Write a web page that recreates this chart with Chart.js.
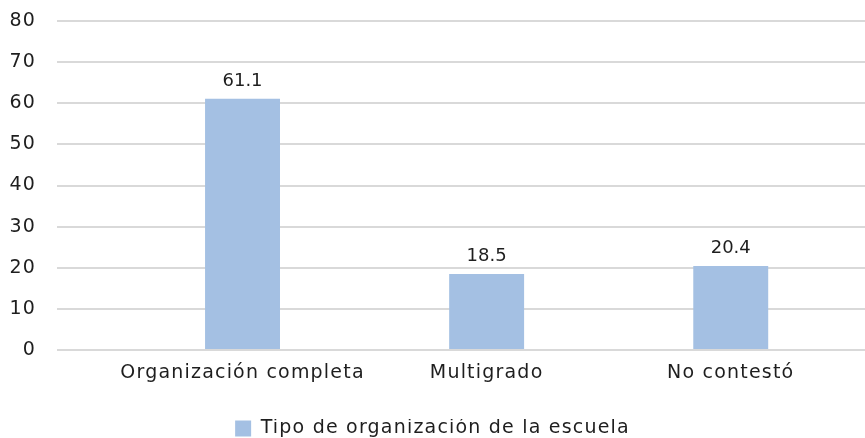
<!DOCTYPE html>
<html>
<head>
<meta charset="utf-8">
<script src="https://cdn.jsdelivr.net/npm/chart.js@4/dist/chart.umd.min.js"></script>
<style>
  html, body { margin: 0; padding: 0; background: #fff; }
  #wrap { width: 865px; height: 438px; }
</style>
</head>
<body>
<div id="wrap"><canvas id="chart"></canvas></div>
<script>
// ── Data ────────────────────────────────────────────────────
const categories = ['Organización completa', 'Multigrado', 'No contestó'];
const values = [61.1, 18.5, 20.4];
const seriesLabel = 'Tipo de organización de la escuela';
const yTicks = [0, 10, 20, 30, 40, 50, 60, 70, 80];

const FONT = "'DejaVu Sans', sans-serif";
const TEXT = '#1e1e1e';
const BAR = '#a4c0e3';
const SPACING = '1.2px';

// wider lettering for the axis / legend text
const spacing = {
  id: 'spacing',
  beforeLayout(chart) { chart.ctx.letterSpacing = SPACING; },
  beforeDraw(chart) { chart.ctx.letterSpacing = SPACING; }
};

// value labels above bars
const barValues = {
  id: 'barValues',
  afterDatasetsDraw(chart) {
    const { ctx } = chart;
    const meta = chart.getDatasetMeta(0);
    ctx.save();
    ctx.letterSpacing = '0px';
    ctx.font = `18px ${FONT}`;
    ctx.fillStyle = TEXT;
    ctx.textAlign = 'center';
    ctx.textBaseline = 'alphabetic';
    meta.data.forEach((bar, i) => {
      ctx.fillText(values[i].toFixed(1), bar.x, bar.y - 13);
    });
    ctx.restore();
  }
};

new Chart(document.getElementById('chart'), {
  type: 'bar',
  data: {
    datasets: [{
      label: seriesLabel,
      data: values.map((v, i) => ({ x: i, y: v })),
      backgroundColor: BAR,
      borderWidth: 0,
      barPercentage: 0.307,
      categoryPercentage: 1,
    }]
  },
  options: {
    responsive: true,
    maintainAspectRatio: false,
    animation: false,
    layout: { padding: { top: 21, right: 0, left: 0, bottom: -10 } },
    plugins: {
      tooltip: { enabled: false },
      legend: {
        position: 'bottom',
        labels: {
          color: TEXT,
          font: { family: FONT, size: 19 },
          boxWidth: 16,
          boxHeight: 16,
          padding: 0,
        }
      }
    },
    scales: {
      x: {
        type: 'linear',
        offset: false,
        min: -0.76,
        max: 2.55,
        afterBuildTicks: s => { s.ticks = categories.map((_, i) => ({ value: i })); },
        afterFit: s => { s.height = 69; },
        grid: { display: false },
        border: { display: false },
        ticks: {
          color: TEXT,
          font: { family: FONT, size: 19 },
          padding: 4,
          maxRotation: 0,
          callback: v => categories[v] ?? '',
        }
      },
      y: {
        min: 0,
        max: 80,
        afterBuildTicks: s => { s.ticks = yTicks.map(v => ({ value: v })); },
        afterFit: s => { s.width = 57; s.paddingTop = 0; s.paddingBottom = 0; },
        grid: { color: '#d9d9d9', lineWidth: 2, drawTicks: false },
        border: { display: false },
        ticks: {
          color: TEXT,
          font: { family: FONT, size: 19 },
          padding: 21,
        }
      }
    }
  },
  plugins: [spacing, barValues]
});
</script>
</body>
</html>
